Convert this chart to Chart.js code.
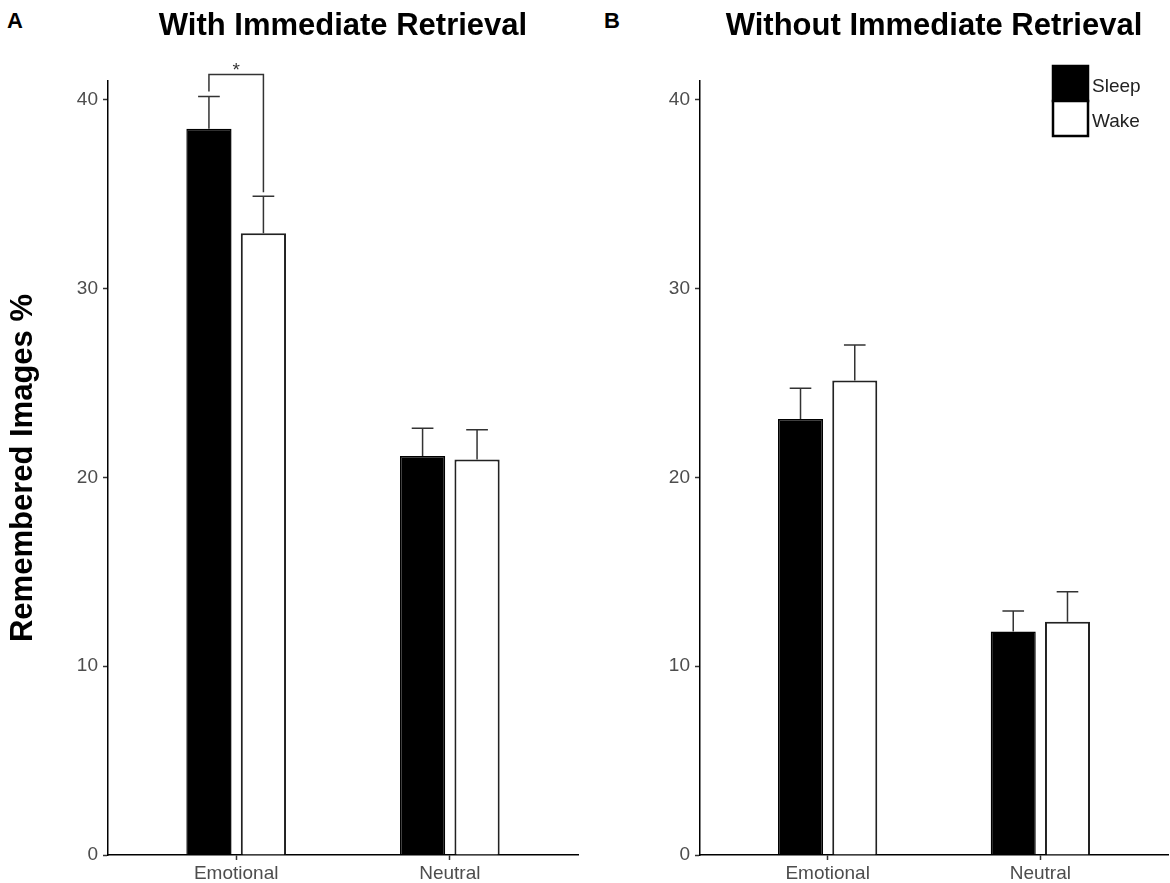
<!DOCTYPE html>
<html>
<head>
<meta charset="utf-8">
<script src="https://cdn.jsdelivr.net/npm/chart.js@4.4.1/dist/chart.umd.min.js"></script>
<style>
  html, body { margin: 0; padding: 0; background: #fff; }
  #wrap { position: relative; width: 1170px; height: 883px; overflow: hidden; font-family: "Liberation Sans", Arial, sans-serif; }
  canvas { position: absolute; top: 0; }
  #panelA { left: 0; }
  #panelB { left: 590px; }
  .tag { position: absolute; top: 10px; font-size: 22px; line-height: 1; font-weight: bold; color: #000; }
</style>
</head>
<body>
<div id="wrap">
  <div class="tag" style="left:7px">A</div>
  <div class="tag" style="left:604px">B</div>
  <canvas id="panelA" width="590" height="883"></canvas>
  <canvas id="panelB" width="580" height="883"></canvas>
</div>
<script>
// categories and groups
const categories = ['Emotional', 'Neutral'];
const groups = ['Sleep', 'Wake'];
const yTicks = [0, 10, 20, 30, 40];

// A: with immediate retrieval (mean, upper error)
const withSleep = [38.47, 21.13];
const withSleepErr = [1.71, 1.48];
const withWake = [32.94, 20.95];
const withWakeErr = [1.95, 1.58];

// B: without immediate retrieval
const withoutSleep = [23.09, 11.84];
const withoutSleepErr = [1.64, 1.08];
const withoutWake = [25.14, 12.35];
const withoutWakeErr = [1.87, 1.59];

// significant comparisons in panel A (category index)
const sigPairs = [{ cat: 0, label: '*' }];

Chart.defaults.font.family = '"Liberation Sans", Arial, sans-serif';

const errorBarPlugin = {
  id: 'errorBars',
  afterDatasetsDraw(chart) {
    const ctx = chart.ctx;
    const y = chart.scales.y;
    chart.data.datasets.forEach((ds, di) => {
      chart.getDatasetMeta(di).data.forEach((bar, i) => {
        const top = y.getPixelForValue(ds.data[i].y + ds.errors[i]);
        const cap = bar.width * 0.24;
        ctx.save();
        ctx.strokeStyle = '#333';
        ctx.lineWidth = 1.5;
        ctx.beginPath();
        ctx.moveTo(bar.x, bar.y);
        ctx.lineTo(bar.x, top);
        ctx.moveTo(bar.x - cap, top);
        ctx.lineTo(bar.x + cap, top);
        ctx.stroke();
        ctx.restore();
      });
    });
  }
};

const sigPlugin = {
  id: 'sigBracket',
  afterDraw(chart, args, opts) {
    const pairs = opts.pairs || [];
    const ctx = chart.ctx;
    const y = chart.scales.y;
    const [dsA, dsB] = chart.data.datasets;
    pairs.forEach(p => {
      const a = chart.getDatasetMeta(0).data[p.cat];
      const b = chart.getDatasetMeta(1).data[p.cat];
      const ya = y.getPixelForValue(dsA.data[p.cat].y + dsA.errors[p.cat]) - 5;
      const yb = y.getPixelForValue(dsB.data[p.cat].y + dsB.errors[p.cat]) - 4;
      const top = Math.min(ya, yb) - 17;
      ctx.save();
      ctx.strokeStyle = '#333';
      ctx.lineWidth = 1.5;
      ctx.beginPath();
      ctx.moveTo(a.x, ya);
      ctx.lineTo(a.x, top);
      ctx.lineTo(b.x, top);
      ctx.lineTo(b.x, yb);
      ctx.stroke();
      ctx.fillStyle = '#333';
      ctx.font = '19px "Liberation Sans", Arial, sans-serif';
      ctx.textAlign = 'center';
      ctx.textBaseline = 'alphabetic';
      ctx.fillText(p.label, (a.x + b.x) / 2, top + 2);
      ctx.restore();
    });
  }
};

const keyPlugin = {
  id: 'stackedKey',
  afterDraw(chart, args, opts) {
    if (!opts.show) return;
    const ctx = chart.ctx;
    const area = chart.chartArea;
    const w = 35, h = 35;
    const x0 = area.right - 115, y0 = area.top - 15;
    ctx.save();
    chart.data.datasets.forEach((ds, i) => {
      const yy = y0 + i * h;
      ctx.fillStyle = ds.backgroundColor;
      ctx.fillRect(x0, yy, w, h);
      ctx.strokeStyle = '#000';
      ctx.lineWidth = 2.5;
      ctx.strokeRect(x0, yy, w, h);
      ctx.fillStyle = '#222';
      ctx.font = '19px "Liberation Sans", Arial, sans-serif';
      ctx.textAlign = 'left';
      ctx.textBaseline = 'middle';
      ctx.fillText(ds.label, x0 + w + 4, yy + h / 2 + 3);
    });
    ctx.restore();
  }
};

function points(values) {
  return values.map((v, i) => ({ x: i, y: v }));
}

function makePanel(id, title, sleep, sleepErr, wake, wakeErr, axisWidth, padRight, yTitle, extra) {
  const axisLine = { display: true, color: '#000', width: 1.5 };
  const tickGrid = { display: true, drawOnChartArea: false, offset: false, tickLength: 5, tickColor: '#333', tickWidth: 1.5 };
  return new Chart(document.getElementById(id), {
    type: 'bar',
    data: {
      datasets: [
        { label: groups[0], data: points(sleep), errors: sleepErr,
          backgroundColor: '#000', borderColor: '#000', borderWidth: 1.5 },
        { label: groups[1], data: points(wake), errors: wakeErr,
          backgroundColor: '#fff', borderColor: '#222', borderWidth: 2 }
      ]
    },
    options: {
      responsive: false,
      animation: false,
      categoryPercentage: 0.51,
      barPercentage: 0.83,
      layout: { padding: { left: 0, right: padRight, top: 0, bottom: 0 } },
      scales: {
        x: {
          type: 'linear', min: -0.6, max: 1.6, bounds: 'data', offset: false,
          afterBuildTicks: s => { s.ticks = categories.map((c, i) => ({ value: i })); },
          afterFit: s => { s.height = 28; },
          ticks: { callback: v => categories[v] ?? '', font: { size: 19 }, color: '#4d4d4d',
                   padding: 2, maxRotation: 0, autoSkip: false },
          grid: tickGrid,
          border: axisLine
        },
        y: {
          min: 0, max: 41, bounds: 'data',
          afterBuildTicks: s => { s.ticks = yTicks.map(v => ({ value: v })); },
          afterFit: s => { s.width = axisWidth; },
          ticks: { font: { size: 19 }, color: '#4d4d4d', padding: 5 },
          grid: tickGrid,
          border: axisLine,
          title: { display: !!yTitle, text: yTitle || '', color: '#000',
                   font: { size: 31, weight: 'bold' }, padding: { top: 5, bottom: 0 } }
        }
      },
      plugins: {
        legend: { display: false },
        tooltip: { enabled: false },
        title: { display: true, text: title, fullSize: false, color: '#000',
                 font: { size: 31, weight: 'bold' }, padding: { top: 8, bottom: 35.8 } },
        sigBracket: { pairs: extra.pairs || [] },
        stackedKey: { show: !!extra.key }
      }
    },
    plugins: [errorBarPlugin, sigPlugin, keyPlugin]
  });
}

makePanel('panelA', 'With Immediate Retrieval', withSleep, withSleepErr, withWake, withWakeErr,
          108, 12, 'Remembered Images %', { pairs: sigPairs });
makePanel('panelB', 'Without Immediate Retrieval', withoutSleep, withoutSleepErr, withoutWake, withoutWakeErr,
          110, 2, null, { key: true });
</script>
</body>
</html>
